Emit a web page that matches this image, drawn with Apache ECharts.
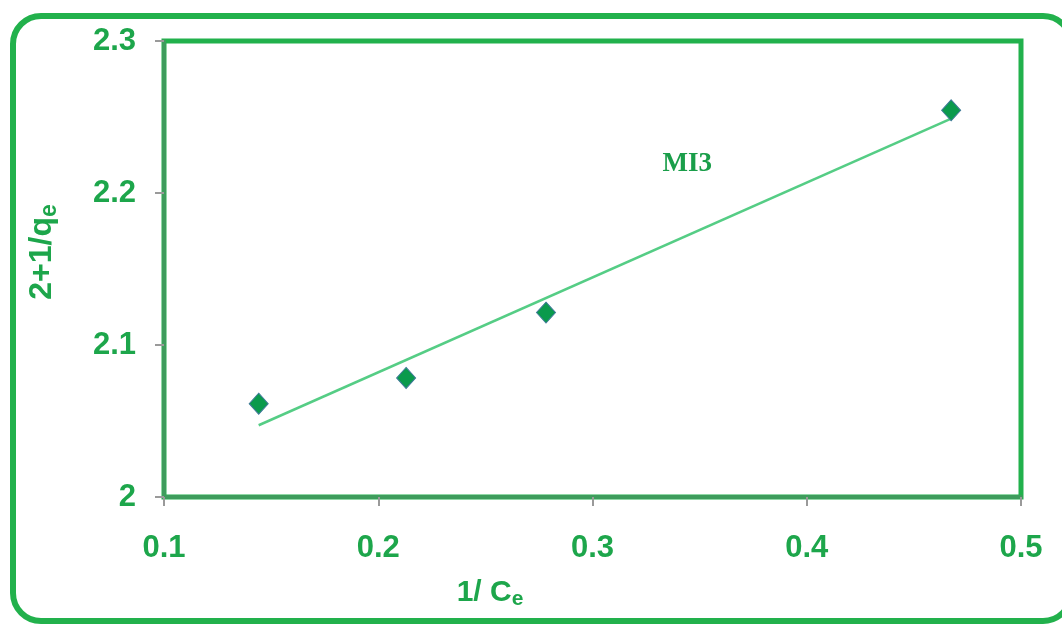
<!DOCTYPE html>
<html>
<head>
<meta charset="utf-8">
<script src="https://cdn.jsdelivr.net/npm/echarts@6/dist/echarts.min.js"></script>
<style>
  html, body { margin: 0; padding: 0; background: #ffffff; }
  #chart { width: 1062px; height: 627px; }
</style>
</head>
<body>
<div id="chart"></div>
<script>
// ---- data ----
const xValues = [0.1442, 0.2130, 0.2783, 0.4674];      // 1/Ce
const yValues = [2.0614, 2.0783, 2.1213, 2.2544];      // 2+1/qe
const trendX = [0.1442, 0.4674];                       // fitted line ends
const trendY = [2.0472, 2.2490];
const xTicks = [0.1, 0.2, 0.3, 0.4, 0.5];
const yTicks = [2, 2.1, 2.2, 2.3];
const seriesLabel = 'MI3';
const labelAnchor = [0.3442, 2.2189];

const GREEN = '#1da64b';
const FONT = '"Liberation Sans", Arial, sans-serif';
const chart = echarts.init(document.getElementById('chart'), null, { renderer: 'canvas' });

const points = xValues.map((x, i) => [x, yValues[i]]);
const trend = trendX.map((x, i) => [x, trendY[i]]);

const frame = {
  type: 'rect',
  shape: { x: 13, y: 16, width: 1058, height: 605, r: 28 },
  style: { fill: 'none', stroke: '#22b14c', lineWidth: 6 },
  silent: true
};

const option = {
  animation: false,
  backgroundColor: '#ffffff',
  grid: {
    left: 164, top: 41, width: 857, height: 456,
    show: true, borderColor: '#22b14c', borderWidth: 5, backgroundColor: 'transparent'
  },
  xAxis: {
    type: 'value',
    min: xTicks[0], max: xTicks[xTicks.length - 1], interval: 0.1,
    name: '{a|1/ C}{b|e}',
    nameLocation: 'middle', nameGap: 78,
    nameTextStyle: {
      padding: [0, 205, 0, 0],
      rich: {
        a: { fontFamily: FONT, fontWeight: 'bold', fontSize: 30, color: GREEN, lineHeight: 35 },
        b: { fontFamily: FONT, fontWeight: 'bold', fontSize: 21, color: GREEN, lineHeight: 21, verticalAlign: 'bottom' }
      }
    },
    axisLine: { show: true, onZero: false, lineStyle: { color: '#3e9c5c', width: 4 } },
    axisTick: { show: true, inside: false, length: 9, lineStyle: { color: '#9a9a9a', width: 2 } },
    axisLabel: {
      margin: 36, color: GREEN, fontFamily: FONT, fontWeight: 'bold', fontSize: 31,
      formatter: v => String(Math.round(v * 10) / 10)
    },
    splitLine: { show: false }
  },
  yAxis: {
    type: 'value',
    min: yTicks[0], max: yTicks[yTicks.length - 1], interval: 0.1,
    name: '{a|2+1/q}{b|e}',
    nameLocation: 'middle', nameGap: 103, nameRotate: 90,
    nameTextStyle: {
      padding: [0, 0, 0, 34],
      rich: {
        a: { fontFamily: FONT, fontWeight: 'bold', fontSize: 32, color: GREEN, lineHeight: 37 },
        b: { fontFamily: FONT, fontWeight: 'bold', fontSize: 23, color: GREEN, lineHeight: 23, verticalAlign: 'bottom' }
      }
    },
    axisLine: { show: true, onZero: false, lineStyle: { color: '#3e9c5c', width: 4 } },
    axisTick: { show: true, inside: false, length: 9, lineStyle: { color: '#9a9a9a', width: 2 } },
    axisLabel: {
      margin: 28, color: GREEN, fontFamily: FONT, fontWeight: 'bold', fontSize: 31,
      formatter: v => String(Math.round(v * 10) / 10)
    },
    splitLine: { show: false }
  },
  series: [
    {
      type: 'line',
      data: trend,
      symbol: 'none',
      lineStyle: { color: '#55cd85', width: 2.5 },
      z: 2
    },
    {
      type: 'scatter',
      data: points,
      symbol: 'diamond',
      symbolSize: [19, 21],
      itemStyle: { color: '#0a9a4c', borderColor: '#3f7a98', borderWidth: 1, opacity: 1 },
      z: 3
    }
  ],
  graphic: [frame]
};
chart.setOption(option);

const lp = chart.convertToPixel({ gridIndex: 0 }, labelAnchor);
chart.setOption({
  graphic: [
    frame,
    {
      type: 'text',
      x: lp[0], y: lp[1],
      style: {
        text: seriesLabel, fill: '#1a9e4a',
        font: 'bold 27px "Liberation Serif", "Times New Roman", serif',
        align: 'center', verticalAlign: 'middle'
      }
    }
  ]
});
</script>
</body>
</html>
